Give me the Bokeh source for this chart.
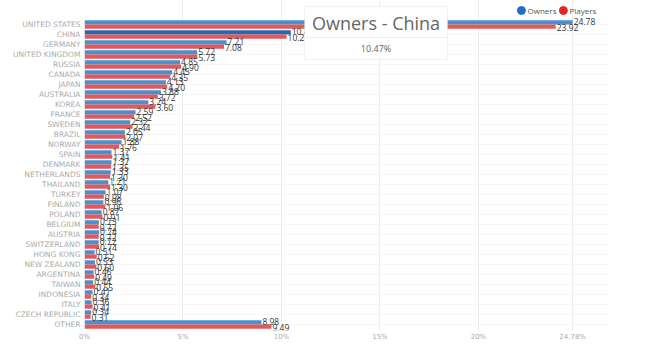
from bokeh.plotting import figure
from bokeh.models import ColumnDataSource, FixedTicker, BoxAnnotation, Label, Range1d
from bokeh.core.properties import value
from bokeh.embed import file_html
from bokeh.resources import INLINE

countries = ["UNITED STATES", "CHINA", "GERMANY", "UNITED KINGDOM", "RUSSIA", "CANADA",
             "JAPAN", "AUSTRALIA", "KOREA", "FRANCE", "SWEDEN", "BRAZIL", "NORWAY", "SPAIN",
             "DENMARK", "NETHERLANDS", "THAILAND", "TURKEY", "FINLAND", "POLAND", "BELGIUM",
             "AUSTRIA", "SWITZERLAND", "HONG KONG", "NEW ZEALAND", "ARGENTINA", "TAIWAN",
             "INDONESIA", "ITALY", "CZECH REPUBLIC", "OTHER"]
owners = [24.78, 10.47, 7.21, 5.72, 4.85, 4.45, 4.13, 3.88, 3.24, 2.59, 2.32, 2.05, 1.88,
          1.37, 1.37, 1.33, 1.21, 1.07, 0.96, 0.87, 0.73, 0.74, 0.72, 0.51, 0.53, 0.46,
          0.44, 0.41, 0.36, 0.34, 8.98]
players = [23.92, 10.26, 7.08, 5.73, 4.90, 4.35, 4.20, 3.72, 3.60, 2.52, 2.44, 2.07, 1.76,
           1.41, 1.35, 1.30, 1.30, 0.98, 1.06, 0.91, 0.72, 0.72, 0.74, 0.62, 0.60, 0.49,
           0.55, 0.34, 0.41, 0.31, 9.49]
series_names = ["Owners", "Players"]
x_ticks = [0, 5, 10, 15, 20, 24.78]
x_tick_labels = ["0%", "5%", "10%", "15%", "20%", "24.78%"]
highlight = "CHINA"

BLUE = "#4b90cc"
BLUE_HI = "#2968b0"
RED = "#e2585b"

n = len(countries)
ypos = [n - 1 - i for i in range(n)]
off = 0.21
src = ColumnDataSource(dict(
    country=countries,
    owners=owners,
    players=players,
    yo=[y + off for y in ypos],
    yp=[y - off for y in ypos],
    ocolor=[BLUE_HI if c == highlight else BLUE for c in countries],
    olab=["%.2f" % v for v in owners],
    plab=["%.2f" % v for v in players],
))

p = figure(width=650, height=354, output_backend="svg", toolbar_location=None,
           x_range=Range1d(0, 26.6), y_range=Range1d(-0.6, 32.4),
           min_border_left=84, min_border_right=42, min_border_top=0, min_border_bottom=24)
p.outline_line_color = None
p.background_fill_color = "white"
p.border_fill_color = "white"

p.hbar(y="yo", right="owners", height=0.42, fill_color="ocolor", line_color=None, source=src)
p.hbar(y="yp", right="players", height=0.42, fill_color=RED, line_color=None, source=src)

p.text(x="owners", y="yo", text="olab", x_offset=1, y_offset=-1, text_baseline="middle",
       text_font_size="8.5px", text_color="#333333", text_font=value("Open Sans"), source=src)
p.text(x="players", y="yp", text="plab", x_offset=1, y_offset=1, text_baseline="middle",
       text_font_size="8.5px", text_color="#333333", text_font=value("Open Sans"), source=src)

# y axis
p.yaxis.ticker = FixedTicker(ticks=ypos)
p.yaxis.major_label_overrides = {y: c for y, c in zip(ypos, countries)}
p.yaxis.axis_line_color = None
p.yaxis.major_tick_line_color = None
p.yaxis.minor_tick_line_color = None
p.yaxis.major_tick_out = 0
p.yaxis.minor_tick_out = 0
p.yaxis.major_label_text_font = "DejaVu Sans"
p.yaxis.major_label_text_font_size = "7.5px"
p.yaxis.major_label_text_color = "#ababab"
p.yaxis.major_label_standoff = 4

# x axis
p.xaxis.ticker = FixedTicker(ticks=x_ticks)
p.xaxis.major_label_overrides = {t: l for t, l in zip(x_ticks, x_tick_labels)}
p.xaxis.axis_line_color = None
p.xaxis.major_tick_line_color = None
p.xaxis.minor_tick_line_color = None
p.xaxis.major_tick_out = 0
p.xaxis.minor_tick_out = 0
p.xaxis.major_label_text_font = "DejaVu Sans"
p.xaxis.major_label_text_font_size = "7px"
p.xaxis.major_label_text_color = "#ababab"
p.xaxis.major_label_standoff = 2

p.xgrid.grid_line_color = "#ececec"
p.ygrid.grid_line_color = "#f6f6f6"

# legend (custom, top right)
leg_y = 31.4
p.scatter(x=[22.18, 24.31], y=[leg_y, leg_y], size=8, color=["#1f6fc5", "#e0282a"])
for lx, name in zip([22.49, 24.62], series_names):
    p.add_layout(Label(x=lx, y=leg_y, text=name, text_baseline="middle",
                       text_font="Open Sans", text_font_size="8px", text_color="#555555"))

# tooltip
hi = countries.index(highlight)
p.add_layout(BoxAnnotation(left=11.17, right=18.43, bottom=26.5, top=31.8,
                           fill_color="white", fill_alpha=1.0,
                           line_color="#d4d4d4", line_width=1))
p.segment(x0=[11.2], x1=[18.4], y0=[28.7], y1=[28.7], line_color="#ededed", level="overlay")
p.add_layout(Label(x=14.8, y=30.15, text="Owners - " + highlight.title(), text_align="center",
                   text_baseline="middle", text_font="Open Sans",
                   text_font_size="18px", text_color="#666666"))
p.add_layout(Label(x=14.8, y=27.6, text="%.2f%%" % owners[hi], text_align="center",
                   text_baseline="middle", text_font="Open Sans",
                   text_font_size="9px", text_color="#666666"))

open("out.html", "w").write(file_html(p, INLINE))
